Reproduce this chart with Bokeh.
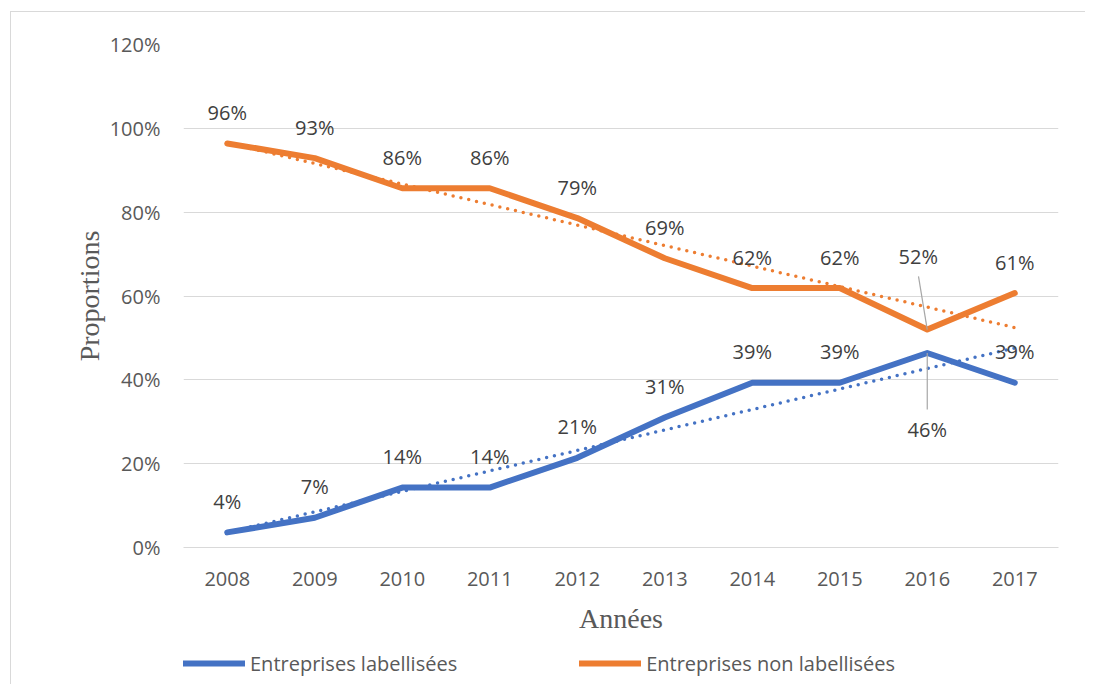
import numpy as np
from bokeh.plotting import figure
from bokeh.layouts import column
from bokeh.models import (ColumnDataSource, FixedTicker, PrintfTickFormatter,
                          Legend, LegendItem, Range1d)
from bokeh.core.properties import value
from bokeh.embed import file_html
from bokeh.resources import INLINE

years = [2008, 2009, 2010, 2011, 2012, 2013, 2014, 2015, 2016, 2017]
labellisees = [3.6, 7.1, 14.3, 14.3, 21.4, 31.0, 39.3, 39.3, 46.4, 39.3]
non_labellisees = [96.4, 92.9, 85.7, 85.7, 78.6, 69.0, 61.9, 61.9, 52.0, 60.7]
y_ticks = [0, 20, 40, 60, 80, 100, 120]
series_names = ["Entreprises labellisées", "Entreprises non labellisées"]

BLUE = "#4472C4"
ORANGE = "#ED7D31"
FONT = "Open Sans"

p = figure(width=1074, height=630, output_backend="svg", toolbar_location=None,
           x_range=Range1d(2007.5, 2017.5), y_range=Range1d(0, 120),
           min_border_left=172, min_border_top=32, min_border_right=27,
           min_border_bottom=95)
p.outline_line_color = None
p.background_fill_color = "white"
p.border_fill_color = "white"

# grid
p.xgrid.grid_line_color = None
p.ygrid.grid_line_color = "#d9d9d9"
p.ygrid.grid_line_width = 1

# axes
p.yaxis.ticker = FixedTicker(ticks=y_ticks)
p.yaxis.formatter = PrintfTickFormatter(format="%d%%")
p.xaxis.ticker = FixedTicker(ticks=years)
for ax in (p.xaxis[0], p.yaxis[0]):
    ax.major_tick_line_color = None
    ax.minor_tick_line_color = None
    ax.major_label_text_font = FONT
    ax.major_label_text_font_size = "20px"
    ax.major_label_text_color = "#595959"
    ax.axis_label_text_font = "Liberation Serif"
    ax.axis_label_text_font_size = "28px"
    ax.axis_label_text_font_style = "normal"
    ax.axis_label_text_color = "#595959"
p.yaxis.axis_line_color = None
p.xaxis.axis_line_color = "#d9d9d9"
p.yaxis.major_label_standoff = 17
p.xaxis.major_label_standoff = 18
p.xaxis.axis_label = "Années"
p.yaxis.axis_label = "Proportions"
p.xaxis.axis_label_standoff = 14
p.yaxis.axis_label_standoff = 2

# trendlines (linear fit of each series)
xa = np.array(years, dtype=float)
tb = np.polyval(np.polyfit(xa, labellisees, 1), xa)
to = np.polyval(np.polyfit(xa, non_labellisees, 1), xa)
p.line(years, list(tb), line_color=BLUE, line_width=3.5, line_dash="0 8", line_cap="round")
p.line(years, list(to), line_color=ORANGE, line_width=3.5, line_dash="0 8", line_cap="round")

# series
p.line(years, labellisees, line_color=BLUE, line_width=6, line_join="round", line_cap="round")
p.line(years, non_labellisees, line_color=ORANGE, line_width=6, line_join="round", line_cap="round")

# data labels
def fmt(v):
    return f"{round(v):d}%"

def labels(vals, special_dx, special_dy):
    dx = [0] * len(vals)
    dy = [-31] * len(vals)
    dx[8] = special_dx
    dy[8] = special_dy
    return ColumnDataSource(dict(x=years, y=vals, t=[fmt(v) for v in vals], dx=dx, dy=dy))

for vals, sdx, sdy in ((non_labellisees, -9, -73), (labellisees, 0, 76)):
    src = labels(vals, sdx, sdy)
    p.text("x", "y", text="t", source=src, x_offset="dx", y_offset="dy",
           text_font=value(FONT), text_font_size="20px", text_color="#404040",
           text_align="center", text_baseline="middle")

# leader lines for 2016 labels
i = 8
p.segment(x0=[years[i] - 0.1], y0=[non_labellisees[i] + 12.7],
          x1=[years[i]], y1=[non_labellisees[i]], line_color="#a6a6a6", line_width=1.2)
p.segment(x0=[years[i]], y0=[labellisees[i]],
          x1=[years[i]], y1=[labellisees[i] - 13.5], line_color="#a6a6a6", line_width=1.2)

# legend strip below the chart (series drawn out of view, only the legend shows)
lg = figure(width=1074, height=42, output_backend="svg", toolbar_location=None,
            x_axis_location=None, y_axis_location=None, min_border=0,
            x_range=Range1d(0, 1), y_range=Range1d(0, 1))
lg.outline_line_color = None
lg.grid.visible = False
lg.border_fill_color = "white"
rb = lg.line(years, labellisees, line_color=BLUE, line_width=6, line_cap="round")
ro = lg.line(years, non_labellisees, line_color=ORANGE, line_width=6, line_cap="round")
legend = Legend(items=[LegendItem(label=series_names[0], renderers=[rb]),
                       LegendItem(label=series_names[1], renderers=[ro])],
                orientation="horizontal", location=(0, 7),
                glyph_width=62, glyph_height=28, label_standoff=5, spacing=122,
                padding=0, margin=0, border_line_color=None,
                background_fill_alpha=0,
                label_text_font=FONT, label_text_font_size="20px",
                label_text_color="#595959", label_height=28)
lg.add_layout(legend, "center")

layout = column(p, lg, spacing=0, margin=(11, 0, 0, 10),
                styles={"border-left": "1px solid #d9d9d9", "border-top": "1px solid #d9d9d9"})

open("out.html", "w").write(file_html(layout, INLINE))
